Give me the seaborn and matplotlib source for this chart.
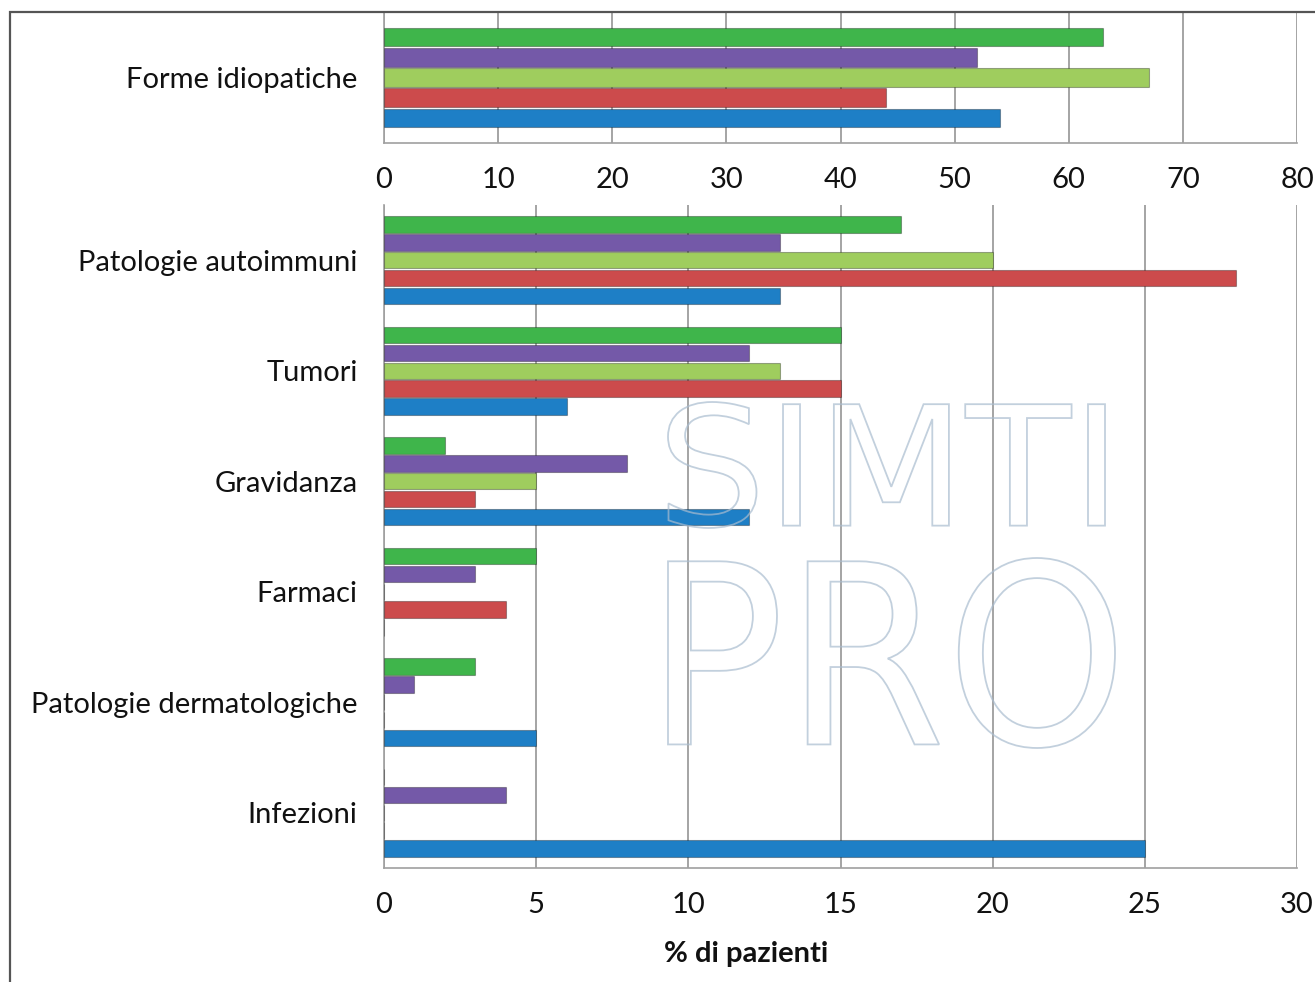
import matplotlib
matplotlib.use("Agg")
import matplotlib.pyplot as plt
import numpy as np
import pandas as pd
import seaborn as sns
from matplotlib.font_manager import FontProperties
from matplotlib.patches import PathPatch, Rectangle
from matplotlib.textpath import TextPath
from matplotlib.transforms import Affine2D

# --- data (first entry = "Forme idiopatiche", rest = lower panel) ---
categories = ["Forme idiopatiche", "Patologie autoimmuni", "Tumori", "Gravidanza",
              "Farmaci", "Patologie dermatologiche", "Infezioni"]
series_names = ["Serie 1", "Serie 2", "Serie 3", "Serie 4", "Serie 5"]
s_green = [63, 17, 15, 2, 5, 3, 0]
s_purple = [52, 13, 12, 8, 3, 1, 4]
s_lightgreen = [67, 20, 13, 5, 0, 0, 0]
s_red = [44, 28, 15, 3, 4, 0, 0]
s_blue = [54, 13, 6, 12, 0, 5, 25]
top_ticks = [0, 10, 20, 30, 40, 50, 60, 70, 80]
bottom_ticks = [0, 5, 10, 15, 20, 25, 30]
xlabel = "% di pazienti"

colors = ["#3fb54b", "#7459a8", "#9fcd5e", "#cc4b4c", "#1e7fc6"]

df = pd.DataFrame({"categoria": categories,
                   series_names[0]: s_green,
                   series_names[1]: s_purple,
                   series_names[2]: s_lightgreen,
                   series_names[3]: s_red,
                   series_names[4]: s_blue})
long = df.melt(id_vars="categoria", var_name="serie", value_name="pct")

sns.set_theme(style="white")
plt.rcParams["font.family"] = ["Lato", "DejaVu Sans"]

fig = plt.figure(figsize=(13.15, 9.82), dpi=100)
W, H = 1315, 982


def px_axes(x0, y0, x1, y1):
    return fig.add_axes([x0 / W, 1 - y1 / H, (x1 - x0) / W, (y1 - y0) / H])


ax_top = px_axes(384, 12, 1297, 143)
ax_bot = px_axes(384, 205, 1297, 868)

pal = dict(zip(series_names, colors))
top_df = long[long["categoria"] == categories[0]]
bot_df = long[long["categoria"] != categories[0]]

sns.barplot(data=top_df, y="categoria", x="pct", hue="serie", hue_order=series_names,
            order=categories[:1], palette=pal, saturation=1, width=0.77, gap=0.08, orient="h",
            edgecolor="#00000050", linewidth=0.8, legend=False, ax=ax_top, zorder=3)
sns.barplot(data=bot_df, y="categoria", x="pct", hue="serie", hue_order=series_names,
            order=categories[1:], palette=pal, saturation=1, width=0.81, gap=0.08, orient="h",
            edgecolor="#00000050", linewidth=0.8, legend=False, ax=ax_bot, zorder=3)

for ax, ticks, n in [(ax_top, top_ticks, 1), (ax_bot, bottom_ticks, len(categories) - 1)]:
    ax.set_xlim(ticks[0], ticks[-1])
    ax.set_xticks(ticks)
    ax.set_xticklabels([str(t) for t in ticks], fontsize=21, color="#111111")
    ax.set_yticks(range(n))
    ax.set_yticks(np.arange(-0.5, n, 1.0), minor=True)
    ax.tick_params(axis="y", which="major", length=0, pad=19, labelsize=21, labelcolor="#111111")
    ax.tick_params(axis="y", which="minor", length=7, width=1.2, color="#8a8a8a", direction="out")
    ax.tick_params(axis="x", which="major", length=7, width=1.2, color="#8a8a8a",
                   direction="out", pad=10)
    ax.grid(axis="x", color="#8c8c8c", linewidth=1.1, zorder=0)
    ax.set_axisbelow(True)
    for side in ["top", "right"]:
        ax.spines[side].set_visible(False)
    for side in ["left", "bottom"]:
        ax.spines[side].set_color("#a0a0a0")
        ax.spines[side].set_linewidth(1.2)
    ax.set_ylabel("")
    ax.set_xlabel("")

ax_bot.set_xlabel(xlabel, fontsize=21, fontweight="bold", color="#111111")
ax_bot.xaxis.set_label_coords(0.397, -0.11)

# outer frame
fig.add_artist(Rectangle((10 / W, -0.1), 1.2, 1 - 12 / H + 0.1, transform=fig.transFigure,
                         fill=False, edgecolor="#555555", linewidth=1.6, zorder=10))

# faint outlined watermark


def outline_text(txt, x0, y0, x1, y1):
    tp = TextPath((0, 0), txt, size=100, prop=FontProperties(family="DejaVu Sans"))
    ext = tp.get_extents()
    sx = (x1 - x0) / ext.width
    sy = (y1 - y0) / ext.height
    tr = Affine2D().translate(-ext.x0, -ext.y0).scale(sx, sy).translate(x0, H - y1)
    fig.add_artist(PathPatch(tr.transform_path(tp), facecolor="none", edgecolor="#a9bccf",
                             linewidth=1.3, alpha=0.7, transform=None, zorder=8))


outline_text("SIMTI", 668, 402, 1105, 528)
outline_text("PRO", 668, 558, 1115, 748)

fig.savefig("out.png", dpi=100)
